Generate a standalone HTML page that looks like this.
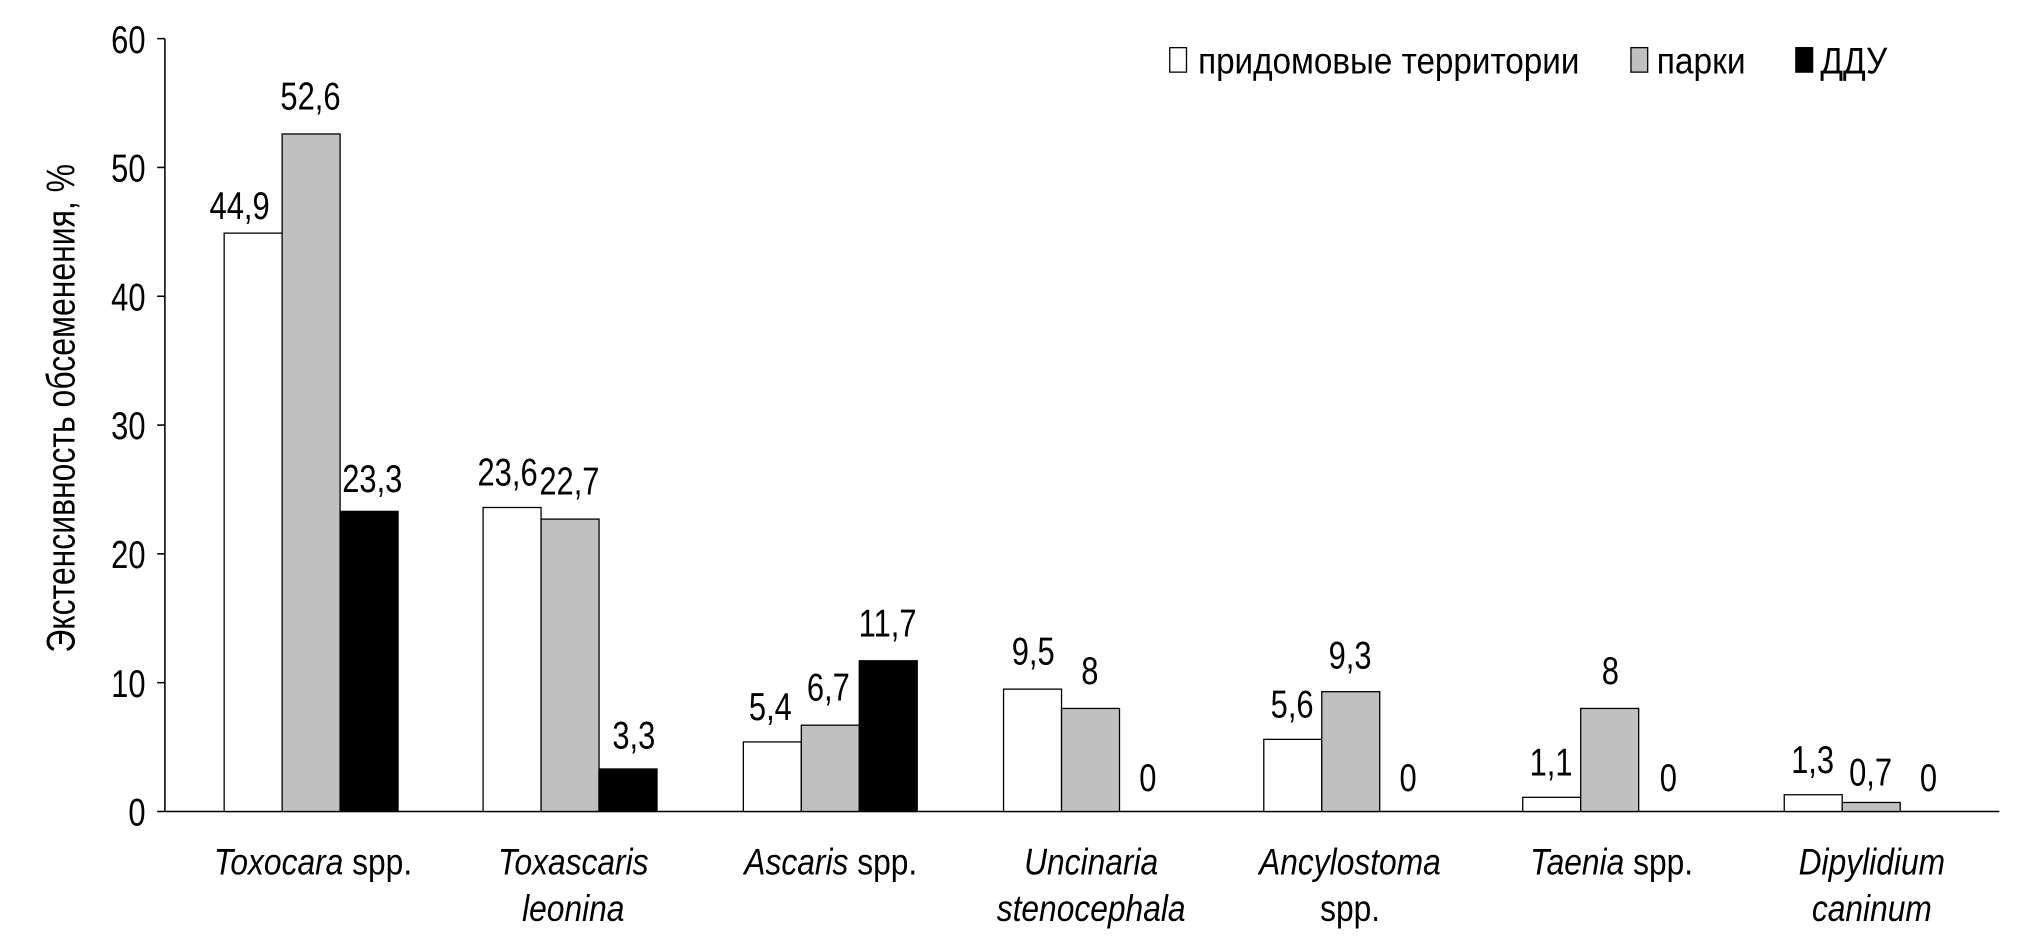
<!DOCTYPE html>
<html><head><meta charset="utf-8"><style>
html,body{margin:0;padding:0;background:#fff;}
svg{display:block;}
text{font-family:"Liberation Sans Narrow","Liberation Sans",sans-serif;fill:#000;}
.n{transform-box:fill-box;transform-origin:center;transform:scaleX(0.8);}
.c{transform-box:fill-box;transform-origin:center;transform:scaleX(0.85);}
.r{transform-box:fill-box;transform-origin:right;transform:scaleX(0.8);}
</style></head><body>
<svg width="2020" height="939" viewBox="0 0 1568 729" preserveAspectRatio="none" xmlns="http://www.w3.org/2000/svg">
<g stroke="#000" stroke-width="1.2">
<line x1="128" y1="30" x2="128" y2="630"/>
<line x1="128" y1="630" x2="1552" y2="630"/>
<line x1="122" y1="30" x2="128" y2="30"/>
<line x1="122" y1="130" x2="128" y2="130"/>
<line x1="122" y1="230" x2="128" y2="230"/>
<line x1="122" y1="330" x2="128" y2="330"/>
<line x1="122" y1="430" x2="128" y2="430"/>
<line x1="122" y1="530" x2="128" y2="530"/>
<line x1="122" y1="630" x2="128" y2="630"/>
</g>
<g font-size="30" text-anchor="end">
<text class="r" x="113" y="41">60</text><text class="r" x="113" y="141">50</text><text class="r" x="113" y="241">40</text>
<text class="r" x="113" y="341">30</text><text class="r" x="113" y="441">20</text><text class="r" x="113" y="541">10</text><text class="r" x="113" y="641">0</text>
</g>
<g transform="translate(58,317) rotate(-90)"><text class="n" x="0" y="0" font-size="31" text-anchor="middle">Экстенсивность обсеменения, %</text></g>
<g stroke="#000" stroke-width="1">
<rect x="174" y="181" width="45" height="449" fill="#fff"/>
<rect x="219" y="104" width="45" height="526" fill="#c0c0c0"/>
<rect x="264" y="397" width="45" height="233" fill="#000"/>
<rect x="375" y="394" width="45" height="236" fill="#fff"/>
<rect x="420" y="403" width="45" height="227" fill="#c0c0c0"/>
<rect x="465" y="597" width="45" height="33" fill="#000"/>
<rect x="577" y="576" width="45" height="54" fill="#fff"/>
<rect x="622" y="563" width="45" height="67" fill="#c0c0c0"/>
<rect x="667" y="513" width="45" height="117" fill="#000"/>
<rect x="779" y="535" width="45" height="95" fill="#fff"/>
<rect x="824" y="550" width="45" height="80" fill="#c0c0c0"/>
<rect x="981" y="574" width="45" height="56" fill="#fff"/>
<rect x="1026" y="537" width="45" height="93" fill="#c0c0c0"/>
<rect x="1182" y="619" width="45" height="11" fill="#fff"/>
<rect x="1227" y="550" width="45" height="80" fill="#c0c0c0"/>
<rect x="1385" y="617" width="45" height="13" fill="#fff"/>
<rect x="1430" y="623" width="45" height="7" fill="#c0c0c0"/>
</g>
<g font-size="30" text-anchor="middle">
<text class="n" x="186" y="170">44,9</text><text class="n" x="241" y="85">52,6</text><text class="n" x="289" y="382">23,3</text>
<text class="n" x="394" y="377">23,6</text><text class="n" x="442" y="384">22,7</text><text class="n" x="492" y="581">3,3</text>
<text class="n" x="598" y="559">5,4</text><text class="n" x="643" y="544">6,7</text><text class="n" x="689" y="494">11,7</text>
<text class="n" x="802" y="516">9,5</text><text class="n" x="846" y="531">8</text><text class="n" x="891" y="614">0</text>
<text class="n" x="1003" y="557">5,6</text><text class="n" x="1048" y="519">9,3</text><text class="n" x="1093" y="614">0</text>
<text class="n" x="1204" y="602">1,1</text><text class="n" x="1250" y="531">8</text><text class="n" x="1295" y="614">0</text>
<text class="n" x="1407" y="600">1,3</text><text class="n" x="1452" y="610">0,7</text><text class="n" x="1497" y="614">0</text>
</g>
<g font-size="29" text-anchor="middle" font-style="italic">
<text class="c" x="243" y="679">Toxocara <tspan font-style="normal">spp.</tspan></text>
<text class="c" x="445" y="679">Toxascaris</text><text class="c" x="445" y="715">leonina</text>
<text class="c" x="645" y="679">Ascaris <tspan font-style="normal">spp.</tspan></text>
<text class="c" x="847" y="679">Uncinaria</text><text class="c" x="847" y="715">stenocephala</text>
<text class="c" x="1048" y="679">Ancylostoma</text><text class="c" x="1048" y="715" font-style="normal">spp.</text>
<text class="c" x="1251" y="679">Taenia <tspan font-style="normal">spp.</tspan></text>
<text class="c" x="1453" y="679">Dipylidium</text><text class="c" x="1453" y="715">caninum</text>
</g>
<g stroke="#000" stroke-width="1">
<rect x="908" y="37" width="13" height="19" fill="#fff"/>
<rect x="1266" y="37" width="13" height="19" fill="#c0c0c0"/>
<rect x="1394" y="37" width="13" height="19" fill="#000"/>
</g>
<g font-size="29">
<text x="930" y="57" textLength="296" lengthAdjust="spacingAndGlyphs">придомовые территории</text>
<text x="1286" y="57" textLength="69" lengthAdjust="spacingAndGlyphs">парки</text>
<text x="1413" y="57" textLength="52" lengthAdjust="spacingAndGlyphs">ДДУ</text>
</g>
</svg>
</body></html>
